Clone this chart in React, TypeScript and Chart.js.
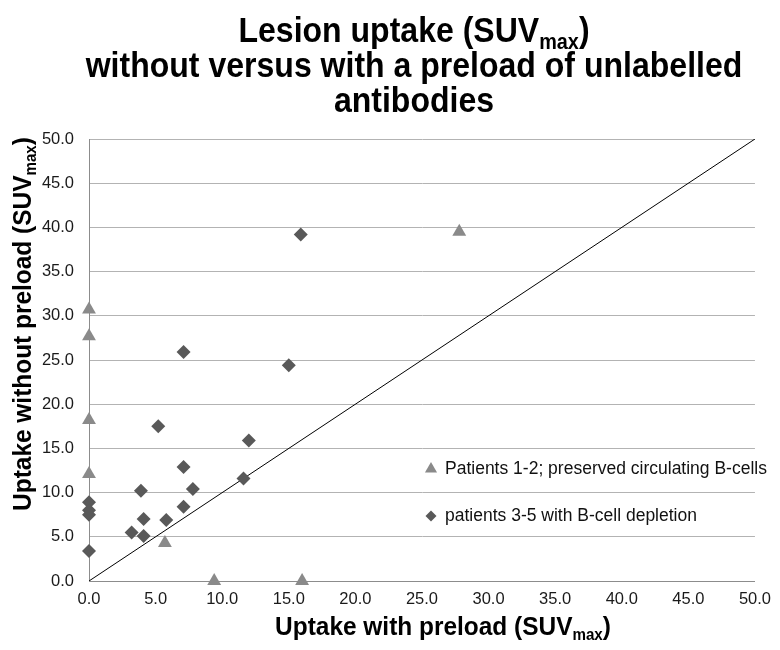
import React, { useEffect, useRef } from "react";
import { Chart, registerables } from "chart.js";

Chart.register(...registerables);

// ---- data ----
const preservedX = [0, 0, 0, 0, 5.7, 9.4, 16.0, 27.8];
const preservedY = [30.7, 27.7, 18.2, 12.1, 4.3, 0, 0, 39.5];

const depletedX = [7.1, 15.0, 5.2, 12.0, 7.1, 11.6, 7.8, 3.9, 7.1, 4.1, 5.8, 3.2, 4.1, 0, 0, 0, 0, 15.9];
const depletedY = [25.9, 24.4, 17.5, 15.9, 12.9, 11.6, 10.4, 10.2, 8.4, 7.0, 6.9, 5.5, 5.1, 8.9, 8.0, 7.5, 3.4, 39.2];

const identityX = [0, 50];
const identityY = [0, 50];

const axisTicks = [0, 5, 10, 15, 20, 25, 30, 35, 40, 45, 50];
const seriesNames = ["Patients 1-2; preserved circulating B-cells", "patients 3-5 with B-cell depletion"];

const titleLines = [
  [{ text: "Lesion uptake (SUV" }, { text: "max", sub: true }, { text: ")" }],
  [{ text: "without versus with a preload of unlabelled" }],
  [{ text: "antibodies" }],
];
const xTitle = [{ text: "Uptake with preload (SUV" }, { text: "max", sub: true }, { text: ")" }];
const yTitle = [{ text: "Uptake without preload (SUV" }, { text: "max", sub: true }, { text: ")" }];

const FONT = '"Liberation Sans", Arial, Helvetica, sans-serif';
const TRI_COLOR = "#8a8a8a";
const DIA_COLOR = "#595959";

type Seg = { text: string; sub?: boolean };

function drawRich(ctx: CanvasRenderingContext2D, segs: Seg[], x: number, y: number, size: number, weight: string, sx = 1) {
  let w = 0;
  const widths: number[] = [];
  for (const s of segs) {
    ctx.font = `${weight} ${s.sub ? size * 0.62 : size}px ${FONT}`;
    const m = ctx.measureText(s.text).width;
    widths.push(m);
    w += m;
  }
  ctx.save();
  ctx.translate(x, y);
  ctx.scale(sx, 1);
  let cx = -w / 2;
  ctx.textAlign = "left";
  ctx.textBaseline = "alphabetic";
  segs.forEach((s, i) => {
    ctx.font = `${weight} ${s.sub ? size * 0.62 : size}px ${FONT}`;
    ctx.fillText(s.text, cx, s.sub ? size * 0.2 : 0);
    cx += widths[i];
  });
  ctx.restore();
}

const textPlugin = {
  id: "textPlugin",
  afterDraw(chart: any) {
    const ctx: CanvasRenderingContext2D = chart.ctx;
    ctx.save();
    ctx.fillStyle = "#000";
    // title
    const baselines = [42, 77, 112];
    titleLines.forEach((line, i) => drawRich(ctx, line, 414, baselines[i], 35, "bold", 0.915));
    // x title
    drawRich(ctx, xTitle, 443, 635, 26, "bold", 0.94);
    // y title
    ctx.save();
    ctx.translate(31, 324);
    ctx.rotate(-Math.PI / 2);
    drawRich(ctx, yTitle, 0, 0, 26, "bold", 0.94);
    ctx.restore();

    // legend
    const items = [
      { y: 469, color: TRI_COLOR, shape: "tri" },
      { y: 516, color: DIA_COLOR, shape: "dia" },
    ];
    items.forEach((it, i) => {
      const mx = 431;
      ctx.fillStyle = it.color;
      ctx.beginPath();
      if (it.shape === "tri") {
        const r = 7;
        ctx.moveTo(mx, it.y - r);
        ctx.lineTo(mx + r * 0.866, it.y + r * 0.5);
        ctx.lineTo(mx - r * 0.866, it.y + r * 0.5);
      } else {
        const r = 5.5;
        ctx.moveTo(mx, it.y - r);
        ctx.lineTo(mx + r, it.y);
        ctx.lineTo(mx, it.y + r);
        ctx.lineTo(mx - r, it.y);
      }
      ctx.closePath();
      ctx.fill();
      ctx.fillStyle = "#111";
      ctx.font = `17.5px ${FONT}`;
      ctx.textAlign = "left";
      ctx.textBaseline = "middle";
      ctx.fillText(seriesNames[i], 445, it.y);
    });
    ctx.restore();
  },
};

export default function App() {
  const ref = useRef<HTMLCanvasElement | null>(null);
  useEffect(() => {
    if (!ref.current) return;
    const chart = new Chart(ref.current, {
      type: "scatter",
      data: {
        datasets: [
          {
            type: "line",
            label: "identity",
            data: identityX.map((x, i) => ({ x, y: identityY[i] })),
            borderColor: "#000",
            borderWidth: 1,
            pointRadius: 0,
            fill: false,
            order: 3,
          } as any,
          {
            label: seriesNames[0],
            data: preservedX.map((x, i) => ({ x, y: preservedY[i] })),
            pointStyle: "triangle",
            pointRadius: 8,
            pointBorderWidth: 0,
            backgroundColor: TRI_COLOR,
            borderColor: TRI_COLOR,
            clip: false,
            order: 1,
          },
          {
            label: seriesNames[1],
            data: depletedX.map((x, i) => ({ x, y: depletedY[i] })),
            pointStyle: "rectRot",
            pointRadius: 7,
            pointBorderWidth: 0,
            backgroundColor: DIA_COLOR,
            borderColor: DIA_COLOR,
            clip: false,
            order: 2,
          },
        ],
      },
      options: {
        responsive: false,
        animation: false,
        devicePixelRatio: 1,
        layout: { padding: { top: 139, right: 20, bottom: 0, left: 0 } },
        plugins: {
          legend: { display: false },
          title: { display: false },
          tooltip: { enabled: false },
        },
        scales: {
          x: {
            type: "linear",
            min: 0,
            max: 50,
            afterBuildTicks: (s: any) => {
              s.ticks = axisTicks.map((v) => ({ value: v }));
            },
            afterFit: (s: any) => {
              s.height = 69;
            },
            grid: { display: false, drawTicks: false },
            border: { display: true, color: "#8c8c8c", width: 1 },
            ticks: {
              padding: 9,
              color: "#1a1a1a",
              font: { family: FONT, size: 16.5 },
              maxRotation: 0,
              callback: (v: any) => Number(v).toFixed(1),
            },
          },
          y: {
            type: "linear",
            min: 0,
            max: 50,
            afterBuildTicks: (s: any) => {
              s.ticks = axisTicks.map((v) => ({ value: v }));
            },
            afterFit: (s: any) => {
              s.width = 89;
            },
            grid: { display: true, drawTicks: false, color: "#b3b3b3", lineWidth: 1 },
            border: { display: true, color: "#8c8c8c", width: 1 },
            ticks: {
              padding: 15,
              color: "#1a1a1a",
              font: { family: FONT, size: 16.5 },
              callback: (v: any) => Number(v).toFixed(1),
            },
          },
        },
      },
      plugins: [textPlugin],
    } as any);
    return () => chart.destroy();
  }, []);
  return (
    <div style={{ position: "absolute", left: 0, top: 0, width: 780, height: 650, background: "#fff" }}>
      <canvas ref={ref} width={780} height={650} style={{ width: 780, height: 650, display: "block" }} />
    </div>
  );
}
